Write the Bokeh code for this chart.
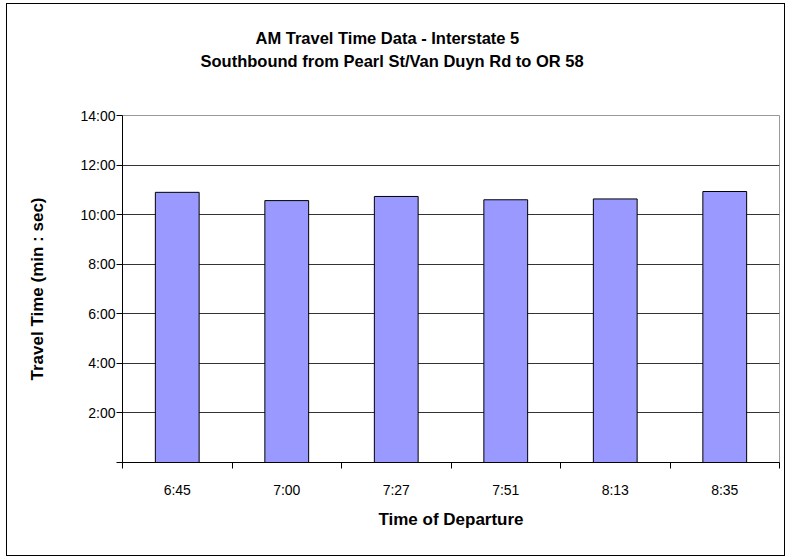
from bokeh.plotting import figure
from bokeh.models import ColumnDataSource, FixedTicker, Range1d, Title
from bokeh.embed import file_html
from bokeh.resources import INLINE

# ---- data ----
departures = ["6:45", "7:00", "7:27", "7:51", "8:13", "8:35"]
travel_times = ["10:54", "10:34", "10:44", "10:36", "10:38", "10:56"]  # min:sec
y_tick_minutes = [0, 2, 4, 6, 8, 10, 12, 14]
y_tick_labels = ["", "2:00", "4:00", "6:00", "8:00", "10:00", "12:00", "14:00"]
title_line1 = "AM Travel Time Data - Interstate 5"
title_line2 = "Southbound from Pearl St/Van Duyn Rd to OR 58"

def to_min(s):
    m, sec = s.split(":")
    return int(m) + int(sec) / 60.0

xs = [i + 0.5 for i in range(len(departures))]
ys = [to_min(t) for t in travel_times]
src = ColumnDataSource(dict(x=xs, top=ys, label=departures, t=travel_times))

FONT = "Liberation Sans"
TITLE_SIZE = "16.5px"
AXT_SIZE = "17px"
TICK_SIZE = "14px"

p = figure(width=779, height=553, output_backend="svg", toolbar_location=None,
           x_range=Range1d(0, len(departures)), y_range=Range1d(0, 14),
           min_border_left=115, min_border_right=7, min_border_top=111,
           min_border_bottom=95)
p.title = None

p.vbar(x="x", top="top", bottom=0, width=0.4, source=src,
       fill_color="#9999FF", line_color="black", line_width=1)

# spacer between frame and title block, then the two title lines
p.add_layout(Title(text=" ", text_font=FONT, text_font_size=TITLE_SIZE,
                   standoff=25), "above")
p.add_layout(Title(text=title_line2, align="left", offset=78, text_font=FONT,
                   text_font_size=TITLE_SIZE, text_font_style="bold",
                   text_color="black", standoff=2), "above")
p.add_layout(Title(text=title_line1, align="left", offset=133, text_font=FONT,
                   text_font_size=TITLE_SIZE, text_font_style="bold",
                   text_color="black", standoff=4), "above")

# y axis
p.yaxis.ticker = FixedTicker(ticks=y_tick_minutes)
p.yaxis.major_label_overrides = {m: l for m, l in zip(y_tick_minutes, y_tick_labels)}
p.yaxis.axis_label = "Travel Time (min : sec)"
p.yaxis.axis_label_text_font = FONT
p.yaxis.axis_label_text_font_size = AXT_SIZE
p.yaxis.axis_label_text_font_style = "bold"
p.yaxis.axis_label_text_color = "black"
p.yaxis.axis_label_standoff = 30
p.yaxis.major_label_text_font = FONT
p.yaxis.major_label_text_font_size = TICK_SIZE
p.yaxis.major_label_text_color = "black"
p.yaxis.major_tick_out = 6
p.yaxis.major_tick_in = 0
p.yaxis.minor_tick_out = 0
p.yaxis.minor_tick_in = 0
p.yaxis.axis_line_color = "black"
p.yaxis.major_tick_line_color = "black"
p.yaxis.major_label_standoff = 1

# x axis: labels at centers, ticks at category boundaries
p.xaxis.ticker = FixedTicker(ticks=xs, minor_ticks=list(range(len(departures) + 1)))
p.xaxis.major_label_overrides = {x: l for x, l in zip(xs, departures)}
p.xaxis.axis_label = "Time of Departure"
p.xaxis.axis_label_text_font = FONT
p.xaxis.axis_label_text_font_size = AXT_SIZE
p.xaxis.axis_label_text_font_style = "bold"
p.xaxis.axis_label_text_color = "black"
p.xaxis.axis_label_standoff = 9
p.xaxis.major_label_text_font = FONT
p.xaxis.major_label_text_font_size = TICK_SIZE
p.xaxis.major_label_text_color = "black"
p.xaxis.major_label_standoff = 13
p.xaxis.major_tick_out = 0
p.xaxis.major_tick_in = 0
p.xaxis.minor_tick_out = 6
p.xaxis.minor_tick_in = 0
p.xaxis.minor_tick_line_color = "black"
p.xaxis.axis_line_color = "black"

# grid
p.xgrid.visible = False
p.ygrid.ticker = FixedTicker(ticks=y_tick_minutes[1:])
p.ygrid.grid_line_color = "#333333"
p.ygrid.grid_line_width = 1

# frame and chart border
p.outline_line_color = "#999999"
p.border_fill_color = "white"
p.background_fill_color = "white"
p.styles = {"border": "1px solid black", "margin-left": "6px", "margin-top": "3px"}

open("out.html", "w").write(file_html(p, INLINE))
